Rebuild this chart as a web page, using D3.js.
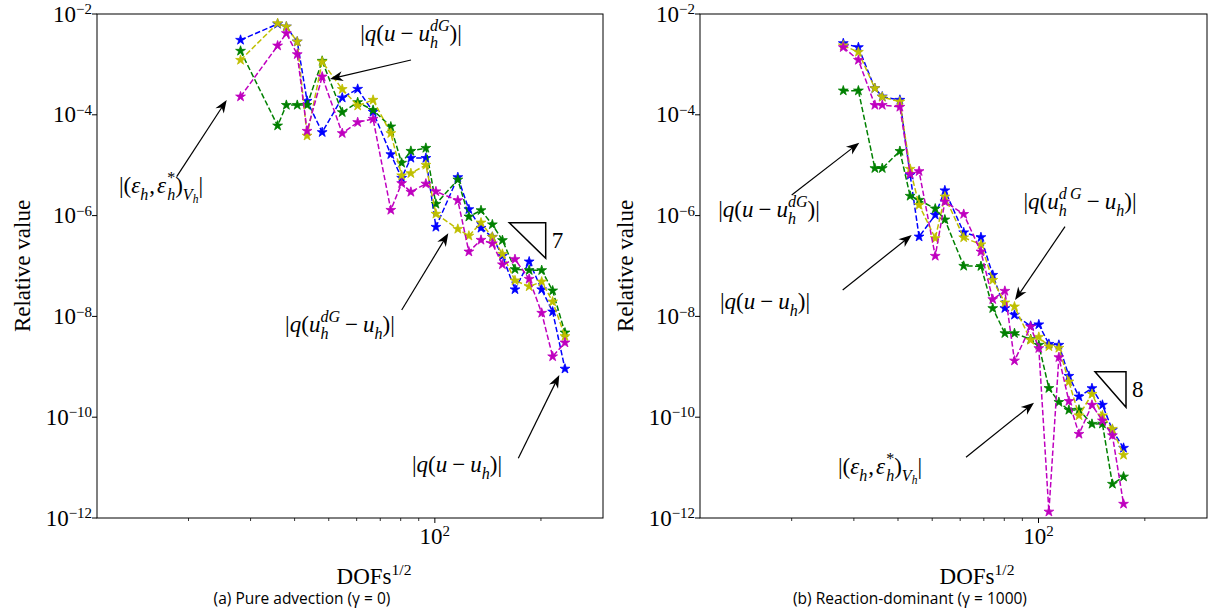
<!DOCTYPE html>
<html><head><meta charset="utf-8">
<script src="https://cdn.jsdelivr.net/npm/d3@7"></script>
<style>body{margin:0;background:#fff} .ser{font-family:"Liberation Serif","DejaVu Serif",serif} .san{font-family:"Open Sans","Noto Sans",sans-serif}</style>
</head><body>
<svg id="c" width="1210" height="615"></svg>
<script>
// ---------- data ----------
const xMajorTicks = [100];
const xMinorTicks = [20, 30, 40, 50, 60, 70, 80, 90, 200];
const yTickExps = [-2, -4, -6, -8, -10, -12];
const seriesColors = ["#0000ff", "#008000", "#bfbf00", "#bf00bf"];
const seriesNames = ["|q(u-u_h)|", "|q(u-u_h^dG)|", "|q(u_h^dG-u_h)|", "|(eps_h,eps_h*)|"];

// (a) Pure advection
const dofsAdv = [28.1, 35.8, 37.9, 40.7, 43.4, 47.9, 54.6, 60.4, 66.8, 75.0, 80.5, 85.5, 94.3, 100.7, 116.2, 124.9, 135.2, 145.6, 155.5, 168.8, 185.2, 201.0, 215.9, 234.0];
const advQuUh   = [3.05e-3, 6.34e-3, 5.60e-3, 2.82e-3, 1.88e-4, 4.50e-5, 2.18e-4, 3.25e-4, 1.14e-4, 1.64e-5, 5.57e-6, 1.39e-5, 1.38e-5, 5.94e-7, 5.75e-6, 1.33e-6, 5.68e-7, 3.76e-7, 1.58e-7, 3.42e-8, 1.22e-7, 3.42e-8, 1.24e-8, 9.12e-10];
const advQuUdG  = [1.85e-3, 6.08e-5, 1.56e-4, 1.56e-4, 1.56e-4, 1.17e-3, 1.12e-4, 1.77e-4, 1.24e-4, 5.81e-5, 1.11e-5, 1.91e-5, 2.19e-5, 1.70e-6, 5.15e-6, 9.51e-7, 1.27e-6, 6.65e-7, 3.24e-7, 8.61e-8, 8.22e-8, 8.22e-8, 3.24e-8, 4.75e-9];
const advQUdGUh = [1.22e-3, 6.53e-3, 5.60e-3, 2.82e-3, 3.83e-5, 1.13e-3, 3.22e-4, 1.51e-4, 1.97e-4, 4.30e-5, 6.25e-6, 6.90e-6, 1.01e-5, 1.08e-6, 5.42e-7, 3.97e-7, 7.23e-7, 3.76e-7, 1.73e-7, 5.15e-8, 3.92e-8, 4.88e-8, 1.96e-8, 4.03e-9];
const advEps    = [2.29e-4, 2.35e-3, 4.14e-3, 1.58e-3, 4.77e-5, 5.70e-4, 4.30e-5, 7.10e-5, 8.26e-5, 1.29e-6, 4.38e-6, 2.94e-6, 4.28e-6, 3.01e-6, 2.00e-6, 1.92e-7, 3.28e-7, 2.79e-7, 1.07e-7, 1.36e-7, 5.52e-8, 1.17e-8, 1.60e-9, 3.01e-9];

// (b) Reaction-dominant
const dofsRea = [28.0, 30.9, 34.4, 36.1, 40.5, 43.3, 45.9, 51.0, 54.3, 61.4, 68.7, 74.2, 80.3, 85.5, 95.0, 100.2, 107.0, 114.2, 121.9, 130.2, 141.7, 151.7, 161.9, 174.1];
const reaQuUh   = [2.62e-3, 2.18e-3, 3.36e-4, 2.29e-4, 1.97e-4, 6.40e-6, 3.81e-7, 1.03e-6, 3.15e-6, 4.62e-7, 3.71e-7, 6.62e-8, 1.45e-8, 1.07e-8, 6.46e-9, 6.90e-9, 2.83e-9, 2.71e-9, 6.56e-10, 2.55e-10, 3.74e-10, 1.75e-10, 5.57e-11, 2.45e-11];
const reaQuUdG  = [3.01e-4, 3.01e-4, 8.69e-6, 8.69e-6, 1.90e-5, 2.45e-6, 2.04e-6, 1.37e-6, 8.30e-7, 1.00e-7, 9.90e-8, 1.45e-8, 4.62e-9, 4.62e-9, 3.52e-9, 2.71e-9, 3.76e-10, 1.99e-10, 1.39e-10, 1.40e-10, 7.33e-11, 7.40e-11, 4.73e-12, 6.59e-12];
const reaQUdGUh = [2.37e-3, 1.76e-3, 3.36e-4, 2.25e-4, 1.82e-4, 8.41e-6, 1.62e-6, 3.55e-7, 2.37e-6, 3.67e-7, 2.67e-7, 5.27e-8, 1.87e-8, 1.56e-8, 3.40e-9, 3.90e-9, 2.53e-9, 2.36e-9, 5.06e-10, 1.08e-10, 2.88e-10, 1.08e-10, 5.83e-11, 1.78e-11];
const reaEps    = [2.18e-3, 1.22e-3, 1.56e-4, 1.56e-4, 1.43e-4, 6.68e-6, 7.57e-6, 1.58e-7, 1.89e-6, 1.07e-6, 1.92e-7, 2.18e-8, 3.19e-8, 1.32e-9, 6.25e-9, 2.33e-9, 1.33e-12, 1.54e-9, 2.08e-10, 4.64e-11, 1.75e-10, 8.53e-11, 4.34e-11, 1.90e-12];

const captions = ["(a) Pure advection (\u03b3 = 0)", "(b) Reaction-dominant (\u03b3 = 1000)"];
const slopes = ["7", "8"];

// ---------- layout ----------
const svg = d3.select("#c");

function mathText(g, x, y, pieces, fs, anchor) {
  const grp = g.append("g");
  let cx = 0, lastStart = 0;
  pieces.forEach(p => {
    const s = p.s || 1;
    const pad = p.pad || 0;
    const startX = p.stack ? lastStart : cx + pad;
    const t = grp.append("text").attr("class", "ser").attr("x", startX).attr("y", (p.dy || 0) * fs)
      .style("font-size", (fs * s) + "px")
      .style("font-style", p.i ? "italic" : "normal").attr("fill", "#000").text(p.t);
    const w = t.node().getComputedTextLength();
    if (p.stack) cx = Math.max(cx, startX + w + pad);
    else { lastStart = startX; cx = startX + w + pad; }
  });
  const off = anchor === "middle" ? -cx / 2 : anchor === "end" ? -cx : 0;
  grp.attr("transform", `translate(${x + off},${y})`);
  return grp;
}
const SUB = 0.3, SUP = -0.45, SS = 0.7;
const L = {
  quuh: [{t:"|"},{t:"q",i:1},{t:"("},{t:"u",i:1},{t:"\u2212",pad:5},{t:"u",i:1},{t:"h",i:1,s:SS,dy:SUB},{t:")"},{t:"|"}],
  quudg: [{t:"|"},{t:"q",i:1},{t:"("},{t:"u",i:1},{t:"\u2212",pad:5},{t:"u",i:1},{t:"h",i:1,s:SS,dy:SUB},{t:"dG",i:1,s:SS,dy:SUP,stack:1},{t:")"},{t:"|"}],
  qudguh: [{t:"|"},{t:"q",i:1},{t:"("},{t:"u",i:1},{t:"h",i:1,s:SS,dy:SUB},{t:"dG",i:1,s:SS,dy:SUP,stack:1},{t:"\u2212",pad:5},{t:"u",i:1},{t:"h",i:1,s:SS,dy:SUB},{t:")"},{t:"|"}],
  qudguh2: [{t:"|"},{t:"q",i:1},{t:"("},{t:"u",i:1},{t:"h",i:1,s:SS,dy:SUB},{t:"d\u2009G",i:1,s:SS,dy:SUP,stack:1},{t:"\u2212",pad:5},{t:"u",i:1},{t:"h",i:1,s:SS,dy:SUB},{t:")"},{t:"|"}],
  eps: [{t:"|("},{t:"\u03b5",i:1},{t:"h",i:1,s:SS,dy:SUB},{t:",",pad:1},{t:"\u03b5",i:1,pad:1},{t:"h",i:1,s:SS,dy:SUB},{t:"*",s:SS,dy:SUP,stack:1},{t:")"},{t:"V",i:1,s:SS,dy:SUB},{t:"h",i:1,s:0.5,dy:0.45},{t:"|"}]
};

const panels = [
  { x0: 97, x1: 603, dofs: dofsAdv, series: [advQuUh, advQuUdG, advQUdGUh, advEps], ylabX: 22, xlabX: 374, capX: 302,
    notes: [
      {lab: "eps", tx: 161, ty: 193, a: [176.7, 176.7, 226.7, 100]},
      {lab: "quudg", tx: 411, ty: 41, a: [411, 60, 330, 79]},
      {lab: "qudguh", tx: 340, ty: 332, a: [401.7, 310, 448.3, 233.3]},
      {lab: "quuh", tx: 457, ty: 472, a: [518.3, 458.3, 559.3, 375]}
    ],
    tri: [509.3, 222.7, 545.7, 258.3] },
  { x0: 700, x1: 1207, dofs: dofsRea, series: [reaQuUh, reaQuUdG, reaQUdGUh, reaEps], ylabX: 625, xlabX: 977, capX: 910,
    notes: [
      {lab: "quudg", tx: 769, ty: 217, a: [791.7, 195, 859.3, 142.7]},
      {lab: "quuh", tx: 765, ty: 309, a: [842.7, 290, 911.7, 235]},
      {lab: "qudguh2", tx: 1080, ty: 209, a: [1065, 226.7, 1015, 300]},
      {lab: "eps", tx: 880, ty: 474, a: [966, 457.3, 1034, 402.7]}
    ],
    tri: [1095, 371.7, 1126, 407.3] }
];
const Y0 = 14, Y1 = 518;

panels.forEach((P, pi) => {
  const x = d3.scaleLog().domain([11, 300]).range([P.x0, P.x1]);
  const y = d3.scaleLog().domain([1e-12, 1e-2]).range([Y1, Y0]);
  const g = svg.append("g");

  // series
  const line = d3.line().x((d, i) => x(P.dofs[i])).y(d => y(d));
  const star = d3.symbol().type(d3.symbolStar).size(30);
  [0, 1, 2, 3].forEach(si => {
    const vals = P.series[si];
    g.append("path").attr("d", line(vals)).attr("fill", "none")
      .attr("stroke", seriesColors[si]).attr("stroke-width", 1.5).attr("stroke-dasharray", "5.5,2.4");
    g.selectAll(null).data(vals).enter().append("path")
      .attr("d", star).attr("transform", (d, i) => `translate(${x(P.dofs[i])},${y(d)})`)
      .attr("fill", seriesColors[si]).attr("stroke", seriesColors[si]).attr("stroke-width", 0.8);
  });

  // frame
  g.append("rect").attr("x", P.x0).attr("y", Y0).attr("width", P.x1 - P.x0).attr("height", Y1 - Y0)
    .attr("fill", "none").attr("stroke", "#000").attr("stroke-width", 1);

  // y ticks
  yTickExps.forEach(e => {
    const yy = y(Math.pow(10, e));
    g.append("line").attr("x1", P.x0 - 5).attr("x2", P.x0).attr("y1", yy).attr("y2", yy).attr("stroke", "#000");
    mathText(g, P.x0 - 5, yy + 7.5, [{t:"10"},{t:"\u2212" + (-e), s: 0.65, dy: -0.32}], 23, "end");
  });
  // x ticks
  xMajorTicks.forEach(v => {
    g.append("line").attr("x1", x(v)).attr("x2", x(v)).attr("y1", Y1).attr("y2", Y1 + 5).attr("stroke", "#000");
    mathText(g, x(v), Y1 + 26, [{t:"10"},{t:"2", s: 0.65, dy: -0.35}], 23, "middle");
  });
  xMinorTicks.forEach(v => {
    g.append("line").attr("x1", x(v)).attr("x2", x(v)).attr("y1", Y1).attr("y2", Y1 + 3).attr("stroke", "#000").attr("stroke-width", 0.8);
  });

  // axis labels
  g.append("text").attr("class", "ser").attr("transform", `translate(${P.ylabX},${(Y0 + Y1) / 2}) rotate(-90)`)
    .attr("text-anchor", "middle").attr("dominant-baseline", "central")
    .style("font-size", "23px").text("Relative value");
  mathText(g, P.xlabX, 584, [{t:"DOFs"},{t:"1/2", s: 0.68, dy: -0.4}], 23, "middle");
  g.append("text").attr("class", "san").attr("x", P.capX).attr("y", 604).attr("text-anchor", "middle")
    .style("font-size", "15.5px").text(captions[pi]);

  // annotations
  P.notes.forEach(n => {
    mathText(g, n.tx, n.ty, L[n.lab], 23, "middle");
    const [ax, ay, bx, by] = n.a;
    const ang = Math.atan2(by - ay, bx - ax);
    const hl = 13, hw = 5;
    const ux = Math.cos(ang), uy = Math.sin(ang);
    const bxs = bx - ux * hl, bys = by - uy * hl;
    g.append("line").attr("x1", ax).attr("y1", ay).attr("x2", bx - ux * 6).attr("y2", by - uy * 6)
      .attr("stroke", "#000").attr("stroke-width", 1.2);
    const p1 = [bxs - uy * hw, bys + ux * hw], p2 = [bxs + uy * hw, bys - ux * hw];
    const mid = [bx - ux * hl * 0.7, by - uy * hl * 0.7];
    g.append("path").attr("d", `M${bx},${by}L${p1[0]},${p1[1]}L${mid[0]},${mid[1]}L${p2[0]},${p2[1]}Z`).attr("fill", "#000");
  });

  // slope triangle
  const [tx0, ty0, tx1, ty1] = P.tri;
  g.append("path").attr("d", `M${tx0},${ty0}L${tx1},${ty0}L${tx1},${ty1}Z`).attr("fill", "none")
    .attr("stroke", "#000").attr("stroke-width", 1.5);
  g.append("text").attr("class", "ser").attr("x", tx1 + 6).attr("y", (ty0 + ty1) / 2 + 7)
    .style("font-size", "23px").text(slopes[pi]);
});
</script>
</body></html>
